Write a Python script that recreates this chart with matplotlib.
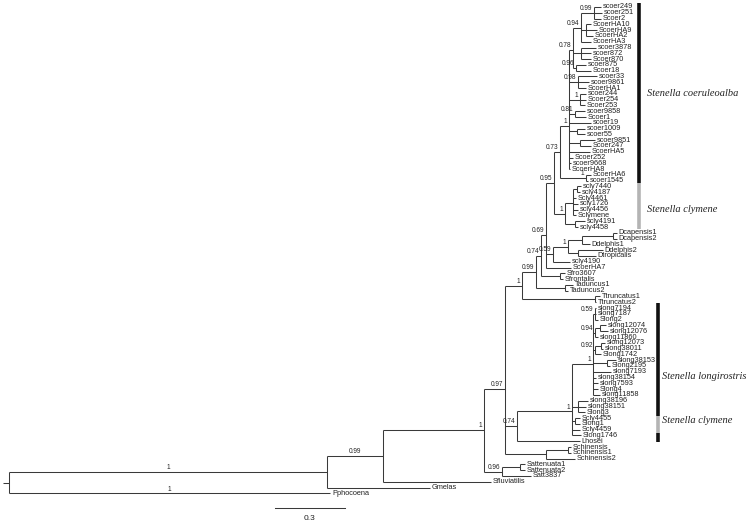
import re
import matplotlib
matplotlib.use("Agg")
import matplotlib.pyplot as plt
from matplotlib.collections import LineCollection

# tree with branch lengths and posterior supports
coeruleoalba = ("(((((scoer249:0.030,scoer251:0.034,Scoer2:0.030)0.99:0.056,"
                "(ScoerHA10:0.021,ScoerHA9:0.047,ScoerHA2:0.030):0.021,ScoerHA3:0.043)0.94:0.034,"
                "(scoer3878:0.064,scoer872:0.043,Scoer870:0.043):0.034,"
                "(scoer875:0.043,Scoer18:0.064)0.96:0.013)0.78:0.017,"
                "(scoer33:0.081,scoer9861:0.047,ScoerHA1:0.034)0.98:0.039,"
                "(scoer244:0.026,Scoer254:0.026,Scoer253:0.021)1:0.047,"
                "(scoer9858:0.043,Scoer1:0.047)0.81:0.026,scoer19:0.094,"
                "(scoer1009:0.034,scoer55:0.034):0.034,(scoer9851:0.064,Scoer247:0.047):0.047,"
                "ScoerHA5:0.090,Scoer252:0.017,scoer9668:0.009,ScoerHA8:0.004)1:0.039,"
                "(ScoerHA6:0.021,scoer1545:0.009)1:0.111)0.73:0.026")
clymene = ("(((scly7440:0.017,scly4187:0.013):0.017,Scly4461:0.013,scly1726:0.021,"
           "scly4456:0.021,Sclymene:0.013):0.034,(scly4191:0.043,scly4458:0.013):0.043)1:0.047")
delphinus = ("((((Dcapensis1:0.017,Dcapensis2:0.017):0.133,Ddelphis1:0.034):0.060,"
             "(Ddelphis2:0.107,Dtropicalis:0.077):0.043)1:0.064,scly4190:0.073)0.59:0.030")
longirostris = ("(((slong7194:0.004,slong7187:0.004,Slong2:0.013)0.59:0.009,"
                "((slong12074:0.026,slong12076:0.034):0.021,slong11860:0.013)0.94:0.009,"
                "((slong12073:0.017,slong38011:0.009):0.026,Slong1742:0.026)0.92:0.009,"
                "(slong38153:0.039,Slong2195:0.013):0.060,slong7193:0.077,slong38154:0.013,"
                "slong7593:0.021,Slong4:0.021,slong11858:0.030)1:0.090,"
                "(slong38196:0.043,slong38151:0.034,Slong3:0.030):0.026,"
                "(Scly4455:0.021,Slong1:0.021):0.013,Scly4459:0.034,Slong1746:0.039)1:0.236")
others = {"CLY": clymene, "COE": coeruleoalba, "DEL": delphinus, "LON": longirostris}
tree_nwk = ("((((((((((COE,CLY)0.95:0.034,DEL,ScoerHA7:0.107)0.69:0.021,"
            "(Sfro3607:0.021,Sfrontalis:0.013):0.081)0.74:0.021,"
            "(Taduncus1:0.034,Taduncus2:0.013):0.124)0.99:0.060,"
            "(Ttruncatus1:0.021,Ttruncatus2:0.004):0.313)1:0.073,"
            "(LON,Lhosei:0.270)0.74:0.051,"
            "((Schinensis:0.013,Schinensis1:0.013):0.094,Schinensis2:0.124):0.176)0.97:0.090,"
            "((Sattenuata1:0.021,Sattenuata2:0.021):0.077,Satt3837:0.124)0.96:0.077)1:0.433,"
            "Sfluviatilis:0.463)0.99:0.240,Gmelas:0.4415)1:1.363,Pphocoena:1.376):0.026;")
for key, sub in others.items():
    tree_nwk = tree_nwk.replace(key, sub)

leaf_support = {"Pphocoena": "1"}

clade_names = ["Stenella coeruleoalba", "Stenella clymene", "Stenella longirostris", "Stenella clymene"]
clade_rows = [15.9, 36.0, 64.9, 72.5]
clade_x = [2.735, 2.735, 2.80, 2.80]

bar_from = [0.25, 31.45, 52.1, 71.6, 74.6]
bar_to = [31.45, 39.3, 71.6, 74.6, 76.1]
bar_x = [2.70, 2.70, 2.783, 2.783, 2.783]
bar_col = ["#111111", "#b4b4b4", "#111111", "#b4b4b4", "#111111"]

scale_len = 0.3


def parse(s):
    pos = [0]

    def node():
        kids = []
        if s[pos[0]] == "(":
            pos[0] += 1
            while True:
                kids.append(node())
                c = s[pos[0]]
                pos[0] += 1
                if c == ")":
                    break
        m = re.match(r"([^:,();]*)(?::([0-9.]+))?", s[pos[0]:])
        pos[0] += m.end()
        return {"label": m.group(1), "len": float(m.group(2) or 0), "kids": kids}
    return node()


def layout(n, depth, count):
    n["x"] = depth
    if not n["kids"]:
        count[0] += 1
        n["y"] = count[0]
    else:
        for k in n["kids"]:
            layout(k, depth + k["len"], count)
        n["y"] = sum(k["y"] for k in n["kids"]) / len(n["kids"])


root = parse(tree_nwk)
layout(root, 0.0, [0])

fig = plt.figure(figsize=(7.54, 5.24), dpi=100)
ax = fig.add_axes([0, 0, 1, 1])
ax.set_xlim(-9 / 233.3, 745 / 233.3)
ax.set_ylim(1 + 517 / 5.79, 1 - 7 / 5.79)
ax.axis("off")

segs = [[(-root["len"], root["y"]), (0, root["y"])]]
FS_LEAF = 5.3
FS_SUP = 4.7


def draw(n, px):
    if px is not None:
        segs.append([(px, n["y"]), (n["x"], n["y"])])
        sup = n["label"] if n["kids"] else leaf_support.get(n["label"], "")
        if sup:
            if px < 1.5:
                ax.annotate(sup, ((px + n["x"]) / 2, n["y"]), xytext=(0, 0.6),
                            textcoords="offset points", ha="center", va="bottom",
                            fontsize=FS_SUP, family="Liberation Sans", color="#222222")
            else:
                ax.annotate(sup, (n["x"], n["y"]), xytext=(-1.2, 0.6),
                            textcoords="offset points", ha="right", va="bottom",
                            fontsize=FS_SUP, family="Liberation Sans", color="#222222")
    if n["kids"]:
        ys = [k["y"] for k in n["kids"]]
        segs.append([(n["x"], min(ys)), (n["x"], max(ys))])
        for k in n["kids"]:
            draw(k, n["x"])
    else:
        ax.annotate(n["label"], (n["x"], n["y"]), xytext=(1.4, 0),
                    textcoords="offset points", ha="left", va="center",
                    fontsize=FS_LEAF, family="Liberation Sans", color="#222222")


draw(root, None)
ax.add_collection(LineCollection(segs, colors="#3a3a3a", linewidths=0.75))

for y0, y1, bx, c in zip(bar_from, bar_to, bar_x, bar_col):
    ax.plot([bx, bx], [y0, y1], color=c, lw=2.6, solid_capstyle="butt")

for name, row, cx in zip(clade_names, clade_rows, clade_x):
    ax.text(cx, row, name, fontsize=7.5, family="Liberation Serif", style="italic",
            ha="left", va="center", color="#222222")

sx = (275 - 9) / 233.3
ax.plot([sx, sx + scale_len], [87.5, 87.5], color="#3a3a3a", lw=0.75)
ax.text(sx + scale_len / 2, 89.3, str(scale_len), fontsize=6, family="Liberation Sans",
        ha="center", va="center", color="#222222")

fig.savefig("out.png", dpi=100)
